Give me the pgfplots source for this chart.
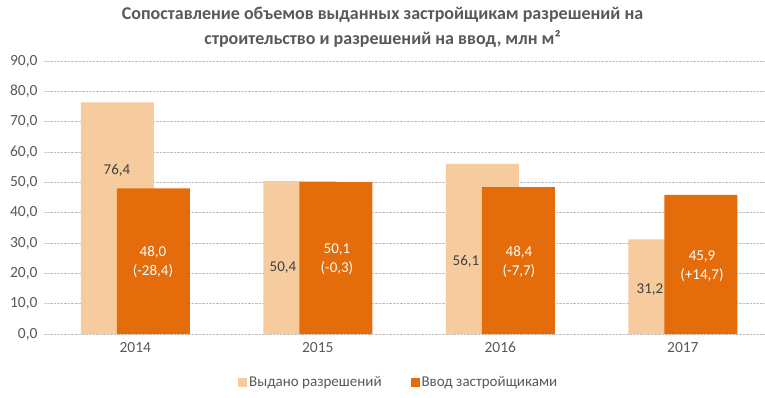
\documentclass[border=0pt]{standalone}
\usepackage{pgfplots}
\pgfplotsset{compat=1.18}
\usepackage{fontspec}
\setmainfont{Carlito}
\definecolor{peach}{HTML}{F6CB9D}
\definecolor{orng}{HTML}{E46C0A}
\definecolor{txt}{HTML}{595959}
\definecolor{lbl}{HTML}{404040}
\begin{document}
\begin{tikzpicture}
\begin{axis}[
  scale only axis, width=721bp, height=273bp,
  xmin=-0.5, xmax=3.45, ymin=0, ymax=90,
  ytick={0,10,...,90},
  xtick={0,1,2,3}, xticklabels={2014,2015,2016,2017},
  /pgf/number format/assume math mode=true,
  /pgf/number format/.cd, fixed, fixed zerofill, precision=1, use comma, /pgfplots/.cd,
  ymajorgrids, grid style={densely dotted, color=black!25},
  axis line style={draw=none},
  major tick length=0pt,
  tick label style={font=\fontsize{15.5bp}{18bp}\selectfont, text=txt},
  xticklabel style={anchor=north, yshift=-5bp},
  yticklabel style={anchor=east, xshift=-3bp},
  ybar, bar width=73bp,
  clip=false,
  legend columns=2,
  legend style={draw=none, at={(0.492,-0.176)}, anchor=center,
    font=\fontsize{15bp}{18bp}\selectfont, text=txt,
    /tikz/every even column/.append style={column sep=27bp}},
  legend image code/.code={\fill[#1] (0bp,-4.5bp) rectangle (9bp,4.5bp);},
]
\addplot[ybar, bar shift=-18bp, fill=peach, draw=none] coordinates {(0,76.4) (1,50.4) (2,56.1) (3,31.2)};
\addplot[ybar, bar shift=18bp, fill=orng, draw=none] coordinates {(0,48.0) (1,50.1) (2,48.4) (3,45.9)};
\legend{Выдано разрешений, Ввод застройщиками}
\begin{scope}[every node/.style={font=\fontsize{15bp}{19bp}\selectfont, align=center}]
\node[text=lbl] at (axis cs:-0.1,54.1) {76,4};
\node[text=lbl] at (axis cs:0.809,21.8) {50,4};
\node[text=lbl] at (axis cs:1.812,24.0) {56,1};
\node[text=lbl] at (axis cs:2.820,14.8) {31,2};
\node[text=white] at (axis cs:0.097,23.7) {48,0\\(-28,4)};
\node[text=white] at (axis cs:1.105,24.7) {50,1\\(-0,3)};
\node[text=white] at (axis cs:2.102,23.6) {48,4\\(-7,7)};
\node[text=white] at (axis cs:3.105,22.3) {45,9\\(+14,7)};
\end{scope}
\node[font=\bfseries\fontsize{18bp}{25bp}\selectfont, text=txt, align=center] at (rel axis cs:0.4695,1.1227)
  {Сопоставление объемов выданных застройщикам разрешений на\\строительство и разрешений на ввод, млн м²};
\end{axis}
\pgfresetboundingbox
\useasboundingbox ([xshift=-44bp,yshift=-64bp]current axis.south west) rectangle ++(765bp,398bp);
\end{tikzpicture}
\end{document}
